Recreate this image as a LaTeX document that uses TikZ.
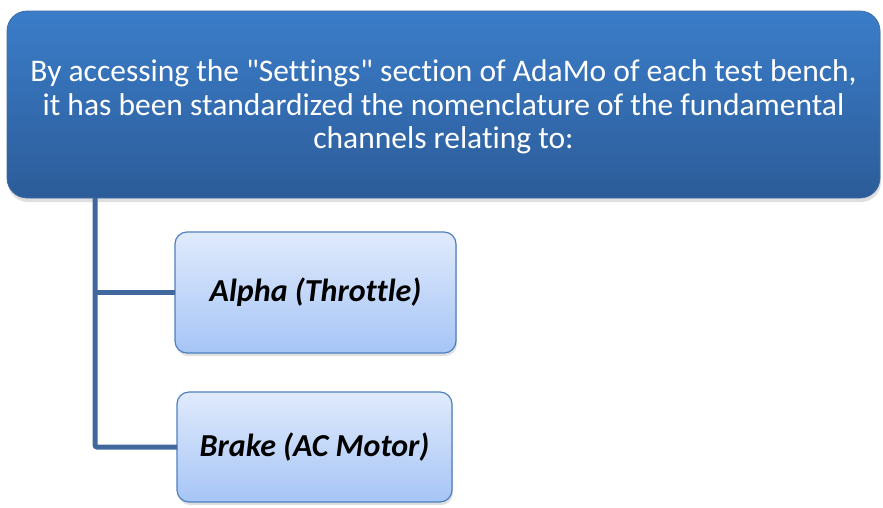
\documentclass[tikz,border=0pt]{standalone}
\usepackage{fontspec}
\setmainfont{Carlito}[Ligatures={TeXOff,NoCommon}]
\usetikzlibrary{shadows}
\definecolor{topA}{HTML}{3B7DC9}
\definecolor{topB}{HTML}{2C5C99}
\definecolor{chA}{HTML}{E0EAFC}
\definecolor{chB}{HTML}{A6C5F6}
\definecolor{chBorder}{HTML}{4F7FBE}
\definecolor{conn}{HTML}{41689C}
\tikzset{
  topbox/.style={rectangle, rounded corners=20pt, top color=topA, bottom color=topB, draw=topB!90!white, line width=0.8pt,
    inner sep=0pt, outer sep=0pt,
    drop shadow={shadow xshift=1pt, shadow yshift=-4pt, opacity=0.25}},
  childbox/.style={rectangle, rounded corners=12pt, top color=chA, bottom color=chB, draw=chBorder, line width=1.2pt,
    inner sep=0pt, outer sep=0pt, font=\fontsize{32}{36}\selectfont\bfseries\itshape,
    drop shadow={shadow xshift=1pt, shadow yshift=-3pt, opacity=0.25}},
  connector/.style={draw=conn, line width=5pt, rounded corners=2pt},
}
\begin{document}
\begin{tikzpicture}[x=1pt,y=-1pt]
\useasboundingbox (0,0) rectangle (883,507);
\node[topbox, minimum width=873pt, minimum height=187pt] (top) at (443.5,104.5) {};
\node[align=center, text=white, font=\fontsize{31.5}{33.5}\selectfont] (toptext) at (443.5,107)
  {By accessing the "Settings" section of AdaMo of each test bench,\\it has been standardized the nomenclature of the fundamental\\channels relating to:};
\node[childbox, minimum width=281pt, minimum height=121pt] (c1) at (315.5,292.5) {Alpha (Throttle)};
\node[childbox, minimum width=275pt, minimum height=110pt] (c2) at (314.5,447) {Brake (AC Motor)};
\coordinate (trunk) at (95,0);
\draw[connector] (trunk |- top.south) -- (trunk |- c2.west) -- (c2.west);
\draw[connector] (trunk |- c1.west) -- (c1.west);
\end{tikzpicture}
\end{document}
